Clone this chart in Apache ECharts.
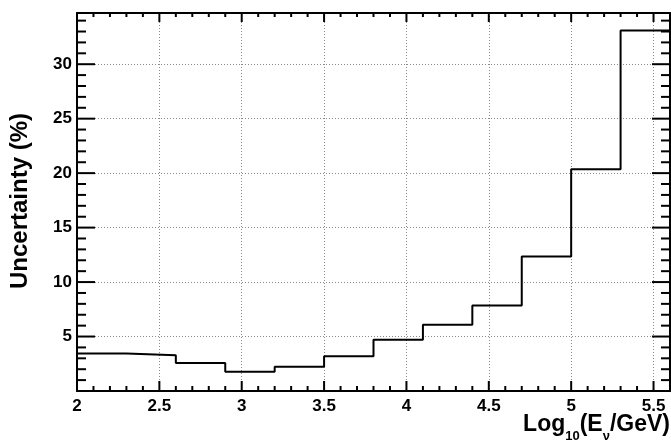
<!DOCTYPE html>
<html><head><meta charset="utf-8">
<script src="https://cdn.jsdelivr.net/npm/echarts@6/dist/echarts.min.js"></script>
<style>html,body{margin:0;padding:0;background:#fff}#c{width:671px;height:443px}</style>
</head><body><div id="c"></div>
<script>
// Histogram bin edges (log10 E / GeV) and uncertainty per bin (%)
const binEdges = [2.0, 2.3, 2.6, 2.9, 3.2, 3.5, 3.8, 4.1, 4.4, 4.7, 5.0, 5.3, 5.6];
const uncertainty = [3.45, 3.29, 2.56, 1.77, 2.23, 3.2, 4.7, 6.09, 7.85, 12.35, 20.35, 33.1];
const xTickLabels = ['2', '2.5', '3', '3.5', '4', '4.5', '5', '5.5'];
const yTickLabels = ['5', '10', '15', '20', '25', '30'];
const xMajorTicks = [2.5, 3, 3.5, 4, 4.5, 5, 5.5];
const xMinorTicks = [2.1, 2.2, 2.3, 2.4, 2.6, 2.7, 2.8, 2.9, 3.1, 3.2, 3.3, 3.4, 3.6, 3.7, 3.8, 3.9,
  4.1, 4.2, 4.3, 4.4, 4.6, 4.7, 4.8, 4.9, 5.1, 5.2, 5.3, 5.4];
const yMajorTicks = [5, 10, 15, 20, 25, 30];
const yMinorTicks = [1, 2, 3, 4, 6, 7, 8, 9, 11, 12, 13, 14, 16, 17, 18, 19, 21, 22, 23, 24,
  26, 27, 28, 29, 31, 32, 33, 34];
const yTitle = 'Uncertainty (%)';

const FONT = '"Liberation Sans", Arial, Helvetica, sans-serif';
const points = binEdges.map((e, i) => [e, uncertainty[Math.min(i, uncertainty.length - 1)]]);
function fmt(v) { return String(+(+v).toFixed(2)); }

// tick spec: [value, kind]  kind 0 = x major, 1 = x minor, 2 = y major, 3 = y minor
const tickData = [].concat(
  xMajorTicks.map(v => [v, 0]), xMinorTicks.map(v => [v, 1]),
  yMajorTicks.map(v => [v, 2]), yMinorTicks.map(v => [v, 3])
);
const TICK_LEN = { 0: [10, 9], 1: [5, 4], 2: [18, 18], 3: [9, 9] };

function renderTick(params, api) {
  const v = api.value(0), kind = api.value(1);
  const cs = params.coordSys;
  const st = { stroke: '#000', lineWidth: 2 };
  const L = TICK_LEN[kind];
  if (kind < 2) {
    const px = api.coord([v, 1])[0];
    const bot = cs.y + cs.height, top = cs.y;
    return { type: 'group', children: [
      { type: 'line', shape: { x1: px, y1: bot, x2: px, y2: bot - L[0] }, style: st },
      { type: 'line', shape: { x1: px, y1: top, x2: px, y2: top + L[1] }, style: st }
    ] };
  }
  const py = api.coord([2.5, v])[1];
  const left = cs.x, right = cs.x + cs.width;
  return { type: 'group', children: [
    { type: 'line', shape: { x1: left, y1: py, x2: left + L[0], y2: py }, style: st },
    { type: 'line', shape: { x1: right, y1: py, x2: right - L[1], y2: py }, style: st }
  ] };
}

const chart = echarts.init(document.getElementById('c'));
chart.setOption({
  animation: false,
  grid: { left: 77, right: 1, top: 13, bottom: 52 },
  xAxis: [{
    type: 'value', position: 'bottom', min: 2, max: 5.6, interval: 0.5,
    axisLine: { show: true, onZero: false, lineStyle: { color: '#000', width: 2 } },
    axisTick: { show: false },
    axisLabel: {
      show: true, color: '#000', fontFamily: FONT, fontWeight: 'bold', fontSize: 17, margin: 7,
      showMaxLabel: false,
      formatter: v => xTickLabels.includes(fmt(v)) ? fmt(v) : ''
    },
    splitLine: { show: true, lineStyle: { color: '#8a8a8a', type: [1, 2], width: 1 } }
  }, {
    type: 'value', position: 'top', min: 2, max: 5.6, interval: 0.5,
    axisLine: { show: true, onZero: false, lineStyle: { color: '#000', width: 2 } },
    axisTick: { show: false }, axisLabel: { show: false }, splitLine: { show: false }
  }],
  yAxis: [{
    type: 'value', position: 'left', min: 0, max: 34.7, interval: 5,
    axisLine: { show: true, onZero: false, lineStyle: { color: '#000', width: 2 } },
    axisTick: { show: false },
    axisLabel: {
      show: true, color: '#000', fontFamily: FONT, fontWeight: 'bold', fontSize: 17, margin: 5,
      showMinLabel: false, showMaxLabel: false,
      formatter: v => yTickLabels.includes(fmt(v)) ? fmt(v) : ''
    },
    splitLine: { show: true, lineStyle: { color: '#8a8a8a', type: [1, 2], width: 1 } }
  }, {
    type: 'value', position: 'right', min: 0, max: 34.7, interval: 5,
    axisLine: { show: true, onZero: false, lineStyle: { color: '#000', width: 2 } },
    axisTick: { show: false }, axisLabel: { show: false }, splitLine: { show: false }
  }],
  series: [{
    type: 'line', step: 'end', data: points, showSymbol: false, symbol: 'none',
    xAxisIndex: 0, yAxisIndex: 0,
    lineStyle: { color: '#000', width: 2 }
  }, {
    type: 'custom', data: tickData, xAxisIndex: 0, yAxisIndex: 0, clip: false,
    renderItem: renderTick, silent: true, z: 5
  }],
  graphic: [
    {
      type: 'text', x: 20, y: 201, rotation: Math.PI / 2,
      style: { text: yTitle, fill: '#000', align: 'center', verticalAlign: 'middle',
        font: 'bold 24px ' + FONT }
    },
    {
      type: 'text', right: 1, bottom: 0,
      style: {
        text: '{m|Log}{s|10}{m|(E}{s|ν}{m|/GeV)}',
        fill: '#000',
        rich: {
          m: { fontFamily: FONT, fontWeight: 'bold', fontSize: 23, lineHeight: 30, verticalAlign: 'top' },
          s: { fontFamily: FONT, fontWeight: 'bold', fontSize: 13, lineHeight: 14, verticalAlign: 'bottom' }
        }
      }
    }
  ]
});
</script>
</body></html>
